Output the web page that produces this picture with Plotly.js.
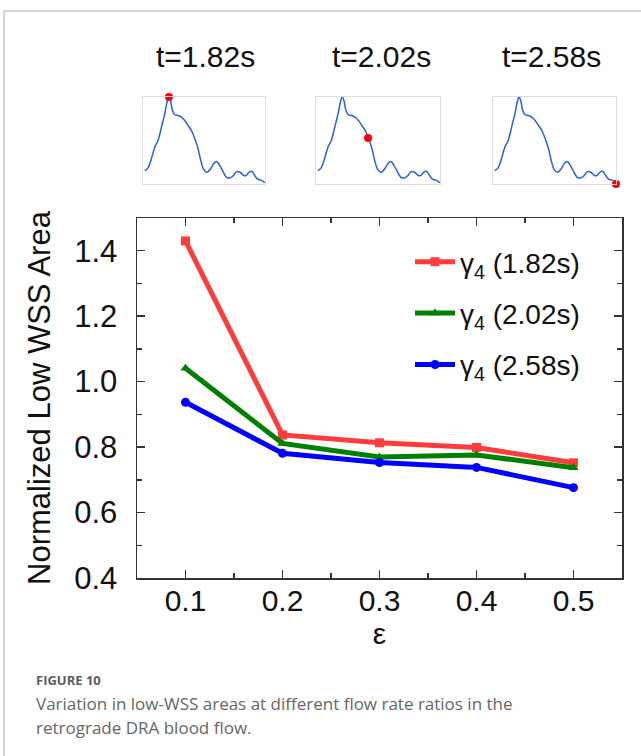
<!DOCTYPE html>
<html>
<head>
<meta charset="utf-8">
<script src="https://cdn.plot.ly/plotly-3.0.1.min.js"></script>
<style>html,body{margin:0;padding:0;background:#fff;}#chart{width:641px;height:756px;}</style>
</head>
<body>
<div id="chart"></div>
<script>
// ---- data ----
const eps = [0.1, 0.2, 0.3, 0.4, 0.5];
const seriesNames = ['γ<sub>4</sub> (1.82s)', 'γ<sub>4</sub> (2.02s)', 'γ<sub>4</sub> (2.58s)'];
const area182 = [1.43, 0.837, 0.813, 0.799, 0.752];
const area202 = [1.041, 0.811, 0.770, 0.776, 0.737];
const area258 = [0.937, 0.781, 0.753, 0.738, 0.676];
const xTickVals = [0.1, 0.2, 0.3, 0.4, 0.5];
const yTickVals = [0.4, 0.6, 0.8, 1.0, 1.2, 1.4];
const yTickText = ['0.4', '0.6', '0.8', '1.0', '1.2', '1.4'];

// inset flow waveform (normalized)
const flowTime = [1.629,1.655,1.681,1.708,1.734,1.761,1.787,1.805,1.819,1.832,1.848,1.866,1.893,1.919,1.945,1.972,1.998,2.025,2.051,2.072,2.097,2.123,2.149,2.176,2.197,2.218,2.244,2.276,2.302,2.329,2.355,2.382,2.408,2.429,2.453,2.474,2.495,2.519,2.545,2.566,2.577];
const flowRate = [0.154,0.185,0.288,0.423,0.5,0.654,0.808,0.942,1.0,0.962,0.846,0.796,0.788,0.769,0.731,0.673,0.615,0.519,0.404,0.269,0.162,0.135,0.173,0.238,0.258,0.223,0.154,0.077,0.069,0.096,0.142,0.135,0.1,0.096,0.135,0.146,0.108,0.058,0.046,0.031,0.012];
const snapTimes = [1.82, 2.02, 2.58];
const snapFlow = [1.0, 0.53, 0.0];
const snapLabels = ['t=1.82s', 't=2.02s', 't=2.58s'];

const W = 641, H = 756;
const px = v => v / W;
const py = v => 1 - v / H;
const FONT = 'Arial, "Liberation Sans", sans-serif';

const colors = ['#ff3b3b', '#008000', '#0000ff'];
const symbols = ['square', 'triangle-up', 'circle'];
const areas = [area182, area202, area258];

const traces = areas.map((a, i) => ({
  x: eps, y: a, type: 'scatter', mode: 'lines+markers',
  name: seriesNames[i], legendgroup: 'g' + i,
  line: {color: colors[i], width: 5},
  marker: {color: colors[i], symbol: symbols[i], size: 9},
  xaxis: 'x', yaxis: 'y', cliponaxis: false
}));

const insetDomainsX = [[px(143), px(265)], [px(316), px(440)], [px(493), px(616)]];
const insetDomainY = [py(184), py(97)];

const layout = {
  width: W, height: H,
  margin: {l: 0, r: 0, t: 0, b: 0},
  paper_bgcolor: '#fff', plot_bgcolor: '#fff',
  showlegend: true,
  font: {family: FONT, color: '#000'},
  legend: {
    x: px(410), y: py(237), xanchor: 'left', yanchor: 'top',
    font: {family: FONT, size: 28, color: '#111'},
    bgcolor: 'rgba(0,0,0,0)', tracegroupgap: 12, itemwidth: 40
  },
  xaxis: {
    domain: [px(137), px(622)], range: [0.05, 0.55], anchor: 'y',
    tickvals: xTickVals, ticktext: xTickVals.map(v => v.toFixed(1)),
    ticks: 'inside', ticklen: 8, tickwidth: 1.5, tickcolor: '#333',
    minor: {dtick: 0.05, tick0: 0.05, ticks: 'inside', ticklen: 5, tickwidth: 1.5, tickcolor: '#333'},
    showline: true, linecolor: '#333', linewidth: 1.5, mirror: 'allticks',
    showgrid: false, zeroline: false,
    tickfont: {family: FONT, size: 30, color: '#111'},
    ticklabelstandoff: -5,
    title: {text: 'ε', font: {family: FONT, size: 30, color: '#111'}, standoff: 4}
  },
  yaxis: {
    domain: [py(578), py(218)], range: [0.4, 1.5], anchor: 'x',
    tickvals: yTickVals, ticktext: yTickText,
    ticks: 'inside', ticklen: 8, tickwidth: 1.5, tickcolor: '#333',
    minor: {dtick: 0.1, tick0: 0.4, ticks: 'inside', ticklen: 5, tickwidth: 1.5, tickcolor: '#333'},
    showline: true, linecolor: '#333', linewidth: 1.5, mirror: 'allticks',
    showgrid: false, zeroline: false,
    tickfont: {family: FONT, size: 31, color: '#111'},
    ticklabelstandoff: 12,
    title: {text: 'Normalized Low WSS Area', font: {family: FONT, size: 31, color: '#111'}, standoff: 14}
  },
  annotations: [],
  shapes: [
    {type: 'line', xref: 'paper', yref: 'paper', x0: px(4), x1: 1, y0: py(11), y1: py(11), line: {color: '#c4c4c4', width: 1.5}},
    {type: 'line', xref: 'paper', yref: 'paper', x0: px(4), x1: px(4), y0: py(11), y1: 0, line: {color: '#c4c4c4', width: 1.5}}
  ]
};

const labelCentersX = [205, 381, 551];
snapTimes.forEach((t, i) => {
  const n = i + 2;
  layout['xaxis' + n] = {
    domain: insetDomainsX[i], range: [1.615, 2.58], anchor: 'y' + n,
    showline: true, mirror: true, linecolor: '#dcdcdc', linewidth: 1.2,
    showticklabels: false, ticks: '', showgrid: false, zeroline: false, fixedrange: true
  };
  layout['yaxis' + n] = {
    domain: insetDomainY, range: [0, 1.0], anchor: 'x' + n,
    showline: true, mirror: true, linecolor: '#dcdcdc', linewidth: 1.2,
    showticklabels: false, ticks: '', showgrid: false, zeroline: false, fixedrange: true
  };
  traces.push({
    x: flowTime, y: flowRate, type: 'scatter', mode: 'lines', showlegend: false,
    line: {color: '#2a5cf0', width: 1.5, shape: 'spline'},
    xaxis: 'x' + n, yaxis: 'y' + n, cliponaxis: false, hoverinfo: 'skip'
  });
  traces.push({
    x: [t], y: [snapFlow[i]], type: 'scatter', mode: 'markers', showlegend: false,
    marker: {color: '#ff0000', size: 8},
    xaxis: 'x' + n, yaxis: 'y' + n, cliponaxis: false
  });
  layout.annotations.push({
    xref: 'paper', yref: 'paper', x: px(labelCentersX[i]), y: py(56),
    xanchor: 'center', yanchor: 'middle', showarrow: false,
    text: snapLabels[i], font: {family: FONT, size: 30, color: '#111'}
  });
});

const CAP = '"Open Sans", "Noto Sans", sans-serif';
layout.annotations.push(
  {xref: 'paper', yref: 'paper', x: px(34), y: py(691), xanchor: 'left', yanchor: 'bottom', showarrow: false,
   text: '<b>FIGURE 10</b>', font: {family: CAP, size: 13, color: '#5c5c5c'}},
  {xref: 'paper', yref: 'paper', x: px(34), y: py(703), xanchor: 'left', yanchor: 'middle', showarrow: false,
   text: 'Variation in low-WSS areas at different flow rate ratios in the', font: {family: CAP, size: 17, color: '#666'}},
  {xref: 'paper', yref: 'paper', x: px(34), y: py(727), xanchor: 'left', yanchor: 'middle', showarrow: false,
   text: 'retrograde DRA blood flow.', font: {family: CAP, size: 17, color: '#666'}}
);

Plotly.newPlot('chart', traces, layout, {staticPlot: true, displayModeBar: false});
</script>
</body>
</html>
